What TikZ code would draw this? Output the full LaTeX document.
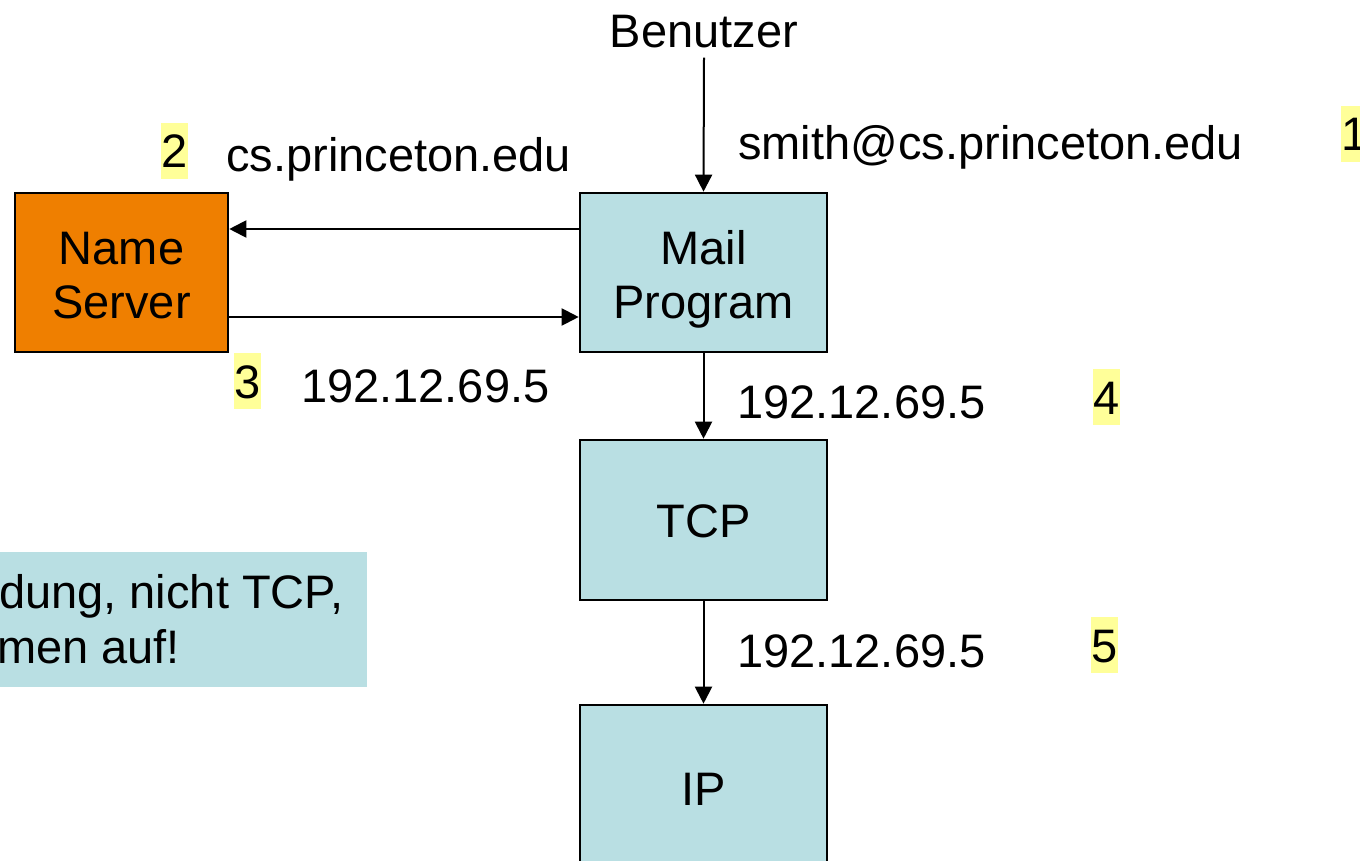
\documentclass[tikz,border=0pt]{standalone}
\usepackage{fontspec}
\setmainfont{Liberation Sans}
\usetikzlibrary{arrows.meta}
\definecolor{boxblue}{HTML}{B9DFE3}
\definecolor{nsorange}{HTML}{EF7F00}
\definecolor{hlyellow}{HTML}{FFFF99}
\begin{document}
\begin{tikzpicture}[x=1pt,y=-1pt,
  font=\fontsize{47}{55}\selectfont,
  layerbox/.style={draw=black, line width=2.6pt, fill=boxblue, minimum width=247pt, minimum height=159pt, inner sep=0pt, align=center},
  nsbox/.style={layerbox, fill=nsorange, minimum width=213pt},
  conn/.style={line width=2pt, -{Triangle[length=17pt,width=17pt]}},
  lbl/.style={anchor=base west, inner sep=0pt},
  stepno/.style={anchor=base west, fill=hlyellow, inner xsep=0.5pt, inner ysep=0pt, text height=45pt, text depth=11pt},
  notebox/.style={fill=boxblue, inner sep=0pt, minimum width=372pt, minimum height=135pt, anchor=north west}
]
\useasboundingbox (0,0) rectangle (1360,861);
\clip (0,0) rectangle (1360,861);

% boxes
\node[layerbox] (mail) at (703.5,272.5) {};
\node[anchor=base, align=center, inner sep=0pt] (mailtxt) at (703.5,318) {Mail\\[-1pt]Program};
\node[nsbox] (ns) at (121.5,272.5) {};
\node[anchor=base, align=center, inner sep=0pt] (nstxt) at (121.5,318) {Name\\[-1pt]Server};
\node[layerbox, minimum height=160pt] (tcp) at (703.5,520) {};
\node[anchor=base, inner sep=0pt] (tcptxt) at (703.5,537) {TCP};
\node[layerbox, minimum height=170pt] (ip) at (703.5,790) {};
\node[anchor=base, inner sep=0pt] (iptxt) at (703.5,805) {IP};

% user
\node[anchor=base, inner xsep=0pt, inner ysep=9pt] (ben) at (704,48) {Benutzer};

% note box (cut off at left)
\node[notebox] (note) at (-5,552) {};
\node[lbl] (note1) at (-1,608) {dung, nicht TCP,};
\node[lbl] (note2) at (-3,663) {men auf!};

% connectors
\draw[conn] (ben.south) -- (mail.north);
\draw[conn] ([yshift=43.5pt]mail.west) -- ([yshift=43.5pt]ns.east);
\draw[conn] ([yshift=-44.5pt]ns.east) -- ([yshift=-44.5pt]mail.west);
\draw[conn] (mail.south) -- (tcp.north);
\draw[conn] (tcp.south) -- (ip.north);

% labels
\node[lbl] (l1) at (738,160) {smith@cs.princeton.edu};
\node[lbl] (l2) at (226,172) {cs.princeton.edu};
\node[lbl] (l3) at (301,402) {192.12.69.5};
\node[lbl] (l4) at (737,418) {192.12.69.5};
\node[lbl] (l5) at (737,667) {192.12.69.5};

% step numbers
\node[stepno] (s1) at (1341,151) {1};
\node[stepno] (s2) at (161,168) {2};
\node[stepno] (s3) at (234,398) {3};
\node[stepno] (s4) at (1093,414) {4};
\node[stepno] (s5) at (1091,662) {5};
\end{tikzpicture}
\end{document}
